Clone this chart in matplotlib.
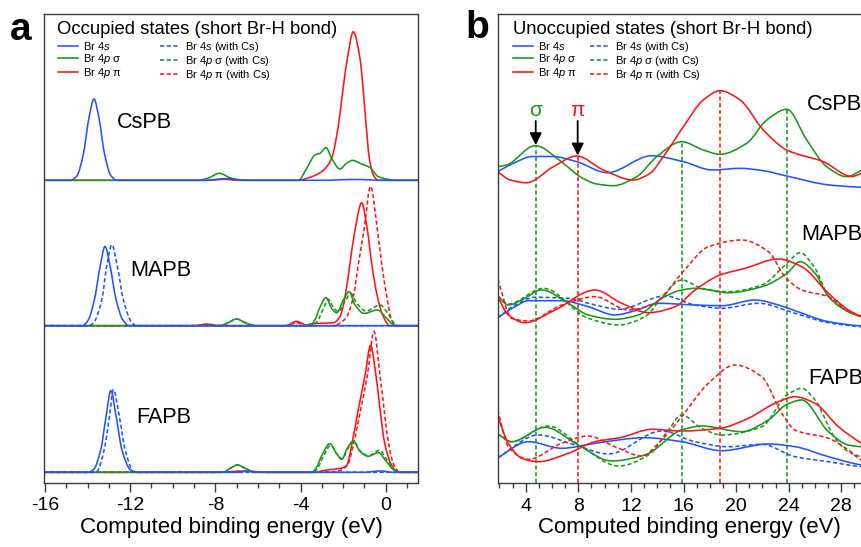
import numpy as np
import matplotlib
matplotlib.use("Agg")
import matplotlib.pyplot as plt
from matplotlib.path import Path
from matplotlib.patches import PathPatch
from matplotlib.lines import Line2D

plt.rcParams['font.family'] = ['Liberation Sans', 'DejaVu Sans']
plt.rcParams['mathtext.fontset'] = 'custom'
plt.rcParams['mathtext.rm'] = 'Liberation Sans'
plt.rcParams['mathtext.it'] = 'Liberation Sans:italic'
plt.rcParams['axes.unicode_minus'] = False

# ---------------- DATA: occupied states (panel a), energy (eV) / intensity ----------------
materials = ["CsPB", "MAPB", "FAPB"]

cspb_occ_4s_x = [-16.1, -14.8, -14.5, -14.2, -13.93, -13.7, -13.47, -13.2, -12.9, -12.6, -8.5, -7.47, -6.5, -3.0, -1.5, 0.0, 1.6]
cspb_occ_4s_y = [0, 0, 4.5, 26, 63, 81.3, 63, 26, 4.5, 0, 0, 1.7, 0, 0, 0.8, 0, 0]
cspb_occ_sig_x = [-16.1, -8.8, -8.3, -7.81, -7.3, -6.8, -4.1, -3.71, -3.32, -3.09, -2.8, -2.54, -2.15, -1.84, -1.55, -1.21, -0.74, -0.35, 0.05, 0.5, 1.6]
cspb_occ_sig_y = [0, 0, 2.5, 7, 2.5, 0, 0, 12, 25.3, 27, 32.7, 22, 11.3, 17, 20, 17, 12.7, 3.7, 1.3, 0, 0]
cspb_occ_pi_x = [-16.1, -8.3, -7.6, -7.0, -4.1, -3.7, -3.0, -2.54, -2.22, -2.02, -1.80, -1.52, -1.21, -1.05, -0.92, -0.77, -0.58, -0.35, 0.0, 1.6]
cspb_occ_pi_y = [0, 0, 1, 0, 0, 2, 8.7, 22, 55.3, 88.7, 122, 148.6, 122, 88.7, 55.3, 22, 5.3, 0, 0, 0]

mapb_occ_4s_x = [-16.1, -14.25, -13.96, -13.68, -13.41, -13.18, -12.94, -12.66, -12.35, -12.05, 1.6]
mapb_occ_4s_y = [0, 0, 6, 26, 59.3, 79.3, 59.3, 26, 6, 0, 0]
mapb_occ_4s_cs_x = [-16.1, -13.95, -13.72, -13.33, -13.1, -12.86, -12.6, -12.32, -11.92, -11.7, 1.6]
mapb_occ_4s_cs_y = [0, 0, 3, 26, 59.3, 81, 59.3, 26, 3, 0, 0]
mapb_occ_sig_x = [-16.1, -7.8, -7.4, -7.0, -6.6, -6.1, -3.55, -3.3, -3.08, -2.80, -2.54, -2.30, -1.99, -1.72, -1.44, -1.02, -0.39, 0.05, 0.36, 0.55, 1.6]
mapb_occ_sig_y = [0, 0, 3, 6.7, 3, 0, 0, 7, 19, 28, 17.3, 13, 25.7, 34, 20.7, 12.3, 15.7, 7.3, 1, 0, 0]
mapb_occ_sig_cs_x = [-16.1, -7.8, -7.4, -7.0, -6.6, -6.1, -3.45, -3.2, -2.95, -2.69, -2.45, -2.22, -1.9, -1.64, -1.35, -0.93, -0.27, 0.2, 0.4, 0.55, 1.6]
mapb_occ_sig_cs_y = [0, 0, 3, 6.7, 3, 0, 0, 5, 16, 26.3, 18, 14, 25, 32.3, 22, 14.7, 20.7, 9, 2, 0, 0]
mapb_occ_pi_x = [-16.1, -9.0, -8.4, -7.8, -4.7, -4.18, -3.7, -3.5, -2.46, -2.15, -1.91, -1.68, -1.44, -1.13, -0.86, -0.66, -0.39, -0.11, 0.2, 1.6]
mapb_occ_pi_y = [0, 0, 1.5, 0, 0, 4.3, 0.5, 2, 3, 9, 29, 62.3, 95.7, 123, 95.7, 62.3, 29, 9, 0, 0]
mapb_occ_pi_cs_x = [-16.1, -9.0, -8.4, -7.8, -4.7, -4.18, -3.7, -2.5, -2.22, -1.83, -1.52, -1.28, -1.02, -0.71, -0.39, -0.19, 0.05, 0.28, 0.52, 1.6]
mapb_occ_pi_cs_y = [0, 0, 1.5, 0, 0, 3, 0, 0, 1.7, 9, 29, 62.3, 95.7, 139.3, 95.7, 62.3, 29, 5.7, 0, 0]

fapb_occ_4s_x = [-16.1, -14.0, -13.72, -13.38, -13.13, -12.91, -12.66, -12.39, -12.0, -11.75, -7.0, -6.5, -6.0, -1.0, -0.3, 0.4, 1.6]
fapb_occ_4s_y = [0, 0, 2.7, 22.7, 56, 81.7, 56, 22.7, 2.7, 0, 0, 1, 0, 0, 1.3, 0, 0]
fapb_occ_4s_cs_x = [-16.1, -13.8, -13.56, -13.22, -12.97, -12.79, -12.51, -12.24, -11.85, -11.6, 1.6]
fapb_occ_4s_cs_y = [0, 0, 1, 22.7, 56, 82.7, 56, 22.7, 1, 0, 0]
fapb_occ_sig_x = [-16.1, -7.65, -7.3, -6.97, -6.6, -6.14, -3.47, -3.25, -3.0, -2.62, -2.31, -2.07, -1.80, -1.52, -1.21, -0.82, -0.35, 0.05, 0.36, 0.6, 1.6]
fapb_occ_sig_y = [0, 0, 4, 7.3, 4, 0, 0, 5, 17, 28.7, 18.7, 13, 24.3, 31.3, 21, 16, 19.7, 10.3, 2.7, 0, 0]
fapb_occ_sig_cs_x = [-16.1, -7.65, -7.3, -6.97, -6.6, -6.14, -3.4, -3.2, -2.95, -2.58, -2.28, -2.04, -1.77, -1.5, -1.19, -0.8, -0.3, 0.1, 0.4, 0.65, 1.6]
fapb_occ_sig_cs_y = [0, 0, 4, 7.3, 4, 0, 0, 4, 15, 27, 18, 13.5, 24, 30.5, 21, 16.5, 22, 11, 3, 0, 0]
fapb_occ_pi_x = [-16.1, -8.0, -6.6, -5.5, -3.3, -3.0, -2.46, -2.1, -1.83, -1.57, -1.28, -0.97, -0.71, -0.46, -0.27, -0.06, 0.28, 0.59, 1.6]
fapb_occ_pi_y = [0, 0, 1.2, 0, 0, 1.5, 3, 4, 7, 30.3, 63.7, 97, 127, 97, 63.7, 30.3, 7, 0, 0]
fapb_occ_pi_cs_x = [-16.1, -8.0, -6.6, -5.5, -3.0, -2.3, -1.80, -1.49, -1.17, -0.86, -0.55, -0.27, -0.08, 0.12, 0.39, 0.66, 1.6]
fapb_occ_pi_cs_y = [0, 0, 1, 0, 0, 1, 7, 30.3, 63.7, 97, 141, 97, 63.7, 30.3, 7, 0, 0]

# ---------------- DATA: unoccupied states (panel b) ----------------
cspb_un_4s_x = [1.87, 3.06, 4.5, 6.0, 7.88, 10.2, 13.58, 15.99, 18.2, 20.3, 22.07, 23.85, 27.1, 29.6, 31.0]
cspb_un_4s_y = [21.3, 29.7, 36.5, 36.5, 31.3, 20.3, 37.3, 31.3, 23, 24.7, 22.3, 17, 8, 5.7, 5]
cspb_un_sig_x = [1.87, 2.55, 4.71, 6.86, 8.13, 9.4, 10.66, 12.44, 13.96, 15.86, 17.5, 18.78, 20.8, 22.33, 23.85, 25.37, 26.89, 28.41, 29.57, 31.0]
cspb_un_sig_y = [26.3, 28, 47.3, 29.7, 16.3, 9, 7.3, 16.3, 36.3, 51.3, 43, 38.7, 49.7, 73, 83.7, 53, 26.3, 16.3, 23, 33]
cspb_un_pi_x = [1.87, 2.81, 4.08, 6.1, 7.88, 9.9, 12.18, 13.45, 14.46, 15.99, 17.5, 18.78, 20.3, 22.07, 23.85, 26.63, 28.8, 29.57, 31.0]
cspb_un_pi_y = [21.3, 13, 10.3, 26.3, 37, 23, 13, 19.7, 36.3, 66.3, 93, 102.3, 93, 63, 43, 31.3, 16.5, 20, 30]

mapb_un_4s_x = [1.87, 3.19, 4.2, 6.74, 8.76, 10.79, 12.31, 14.09, 16.88, 18.9, 21.44, 23.21, 24.48, 27.02, 29.55, 31.0]
mapb_un_4s_y = [15.3, 26.3, 32.3, 32.3, 26.3, 18, 22.3, 29.7, 28, 27.3, 33, 28, 22.3, 11.3, 7, 6]
mapb_un_4s_cs_x = [1.87, 3.19, 4.71, 7.24, 9.27, 11.05, 14.6, 16.88, 18.9, 21.7, 24.48, 27.02, 29.55, 31.0]
mapb_un_4s_cs_y = [15.3, 28, 35.7, 34.7, 28, 23.7, 37, 28, 24.7, 29.7, 19.7, 10.3, 6.3, 5.5]
mapb_un_sig_x = [1.87, 2.68, 3.7, 5.22, 7.24, 8.76, 10.79, 12.57, 14.34, 15.86, 16.88, 19.41, 21.95, 23.87, 24.86, 26.0, 27.02, 28.54, 29.55, 31.0]
mapb_un_sig_y = [37, 28, 33, 43, 29.7, 18, 13.7, 18, 34.7, 43, 44.7, 40.3, 46.3, 59.7, 71.3, 59.7, 36.3, 21.3, 16.3, 12]
mapb_un_sig_cs_x = [1.87, 2.68, 5.34, 8.76, 11.05, 13.07, 14.6, 15.86, 17.38, 19.41, 21.95, 23.87, 24.86, 26.0, 27.02, 28.54, 29.55, 31.0]
mapb_un_sig_cs_y = [37, 29, 44.7, 14.7, 8, 16.3, 39.7, 53, 44.7, 41.3, 48, 69.7, 80.3, 64.7, 37, 21.3, 17, 12]
mapb_un_pi_x = [1.87, 2.68, 3.95, 6.23, 9.27, 11.3, 13.33, 15.36, 16.88, 18.78, 20.68, 23.21, 24.99, 27.02, 28.54, 29.55, 31.0]
mapb_un_pi_y = [36.3, 18, 10.3, 23, 43, 29.7, 20.3, 26.3, 43, 58, 64.7, 74, 66.3, 39.7, 23, 16.3, 12]
mapb_un_pi_cs_x = [1.87, 2.93, 4.2, 6.74, 9.27, 11.81, 13.83, 15.86, 17.89, 20.43, 22.46, 23.72, 24.99, 27.02, 28.54, 29.55, 31.0]
mapb_un_pi_cs_y = [53.7, 14.7, 12, 28, 36.3, 23, 29.7, 59.7, 86.3, 93, 81.3, 56.3, 43, 36.3, 21.3, 16.3, 12]

fapb_un_4s_x = [1.87, 4.2, 6.74, 9.27, 13.07, 15.86, 18.9, 22.45, 24.48, 27.02, 29.55, 31.0]
fapb_un_4s_y = [25.3, 41.3, 34.7, 39.7, 45.3, 41.3, 32.3, 39, 36.3, 26.3, 18, 16]
fapb_un_4s_cs_x = [1.87, 4.96, 7.75, 10.29, 14.34, 16.88, 19.41, 21.95, 24.48, 27.02, 29.55, 31.0]
fapb_un_4s_cs_y = [25.3, 48, 38, 29, 52, 41.3, 36.3, 38.7, 26.3, 21.3, 16.3, 15]
fapb_un_sig_x = [1.87, 2.93, 5.47, 8.0, 10.54, 13.07, 15.86, 17.38, 20.43, 22.45, 23.87, 24.99, 27.02, 28.54, 29.55, 31.0]
fapb_un_sig_y = [49, 41.3, 55.7, 38, 22, 28, 53, 57, 51.3, 63, 78.7, 83, 51.3, 38, 36.3, 36]
fapb_un_sig_cs_x = [1.87, 2.93, 5.72, 8.26, 11.05, 13.33, 14.85, 15.86, 17.38, 18.9, 21.95, 23.87, 24.99, 26.0, 27.53, 28.54, 29.55, 31.0]
fapb_un_sig_cs_y = [49, 41.3, 57, 36.3, 17, 28, 53, 68, 54.7, 48, 56.3, 88, 94.7, 83, 44.7, 31.3, 26.3, 24]
fapb_un_pi_x = [1.87, 2.68, 3.7, 4.96, 7.24, 9.27, 11.3, 13.58, 15.86, 18.78, 20.93, 22.96, 24.48, 26.0, 27.78, 29.55, 31.0]
fapb_un_pi_y = [66.3, 39.7, 24.7, 21.3, 29.7, 41.3, 45.7, 53.7, 52, 54.7, 64.7, 79.7, 86.3, 79.7, 56.3, 39.7, 30]
fapb_un_pi_cs_x = [1.87, 2.68, 4.2, 6.74, 8.76, 10.79, 12.82, 14.34, 15.86, 17.89, 19.92, 21.95, 23.47, 24.48, 27.02, 28.54, 29.55, 31.0]
fapb_un_pi_cs_y = [73, 36.3, 23.7, 39.7, 47, 36.3, 27, 43, 66.3, 99.7, 118, 106.3, 69.7, 53, 44.7, 33, 23, 20]

# energies of the marked CsPB unoccupied peaks (sigma / pi)
marker_energies = [4.76, 7.95, 15.88, 18.78, 23.87]
marker_kinds = ["sig", "pi", "sig", "pi", "sig"]

# ---------------- STYLE ----------------
W, H = 862, 547
BLUE, GREEN, RED = '#1f55ff', '#17991a', '#ff1414'
SPINE = '#3c3c3c'
LW = 1.15
DASH = (0, (2.6, 1.6))
colors = {"4s": BLUE, "sig": GREEN, "pi": RED}

fig = plt.figure(figsize=(W / 100, H / 100), dpi=100)


def fx(px):
    return px / W


def fy(py):
    return 1 - py / H


def smooth_path(xs, ys, dy):
    """Monotone cubic (Fritsch-Butland) curve through the given points as Bezier segments."""
    x = np.asarray(xs, float)
    y = np.asarray(ys, float) + dy
    h = np.diff(x)
    d = np.diff(y) / h
    n = len(x)
    m = np.zeros(n)
    m[0], m[-1] = d[0], d[-1]
    for i in range(1, n - 1):
        if d[i - 1] * d[i] > 0:
            w1 = 2 * h[i] + h[i - 1]
            w2 = h[i] + 2 * h[i - 1]
            m[i] = (w1 + w2) / (w1 / d[i - 1] + w2 / d[i])
    verts = [(x[0], y[0])]
    codes = [Path.MOVETO]
    for i in range(n - 1):
        verts += [(x[i] + h[i] / 3, y[i] + m[i] * h[i] / 3),
                  (x[i + 1] - h[i] / 3, y[i + 1] - m[i + 1] * h[i] / 3),
                  (x[i + 1], y[i + 1])]
        codes += [Path.CURVE4] * 3
    return Path(verts, codes)


def draw(ax, xs, ys, dy, color, dashed=False, z=2):
    patch = PathPatch(smooth_path(xs, ys, dy), fill=False, edgecolor=color, lw=LW,
                      linestyle=DASH if dashed else '-', capstyle='butt', joinstyle='round', zorder=z)
    ax.add_patch(patch)


def style_axes(ax):
    for s in ax.spines.values():
        s.set_color(SPINE)
        s.set_linewidth(1.0)
    ax.set_yticks([])
    ax.tick_params(axis='x', which='major', direction='out', length=6.5, width=1.0,
                   color=SPINE, labelsize=14, pad=4)
    ax.tick_params(axis='x', which='minor', direction='out', length=3.5, width=1.0, color=SPINE)
    ax.set_xlabel("Computed binding energy (eV)", fontsize=16, labelpad=2)


# ================= panel a =================
axa = fig.add_axes([fx(43.7), fy(482.7), fx(418.3 - 43.7), (482.7 - 14) / H])
axa.set_xlim(-16.06, 1.53)
axa.set_ylim(0, 468.7)
style_axes(axa)
axa.set_xticks([-16, -12, -8, -4, 0])
axa.set_xticks(np.arange(-16, 2, 1), minor=True)

occ_base = {"CsPB": 302.4, "MAPB": 157.0, "FAPB": 10.4}
occ = {
    "CsPB": [("pi", cspb_occ_pi_x, cspb_occ_pi_y, False),
             ("sig", cspb_occ_sig_x, cspb_occ_sig_y, False),
             ("4s", cspb_occ_4s_x, cspb_occ_4s_y, False)],
    "MAPB": [("pi", mapb_occ_pi_x, mapb_occ_pi_y, False), ("pi", mapb_occ_pi_cs_x, mapb_occ_pi_cs_y, True),
             ("sig", mapb_occ_sig_x, mapb_occ_sig_y, False), ("sig", mapb_occ_sig_cs_x, mapb_occ_sig_cs_y, True),
             ("4s", mapb_occ_4s_x, mapb_occ_4s_y, False), ("4s", mapb_occ_4s_cs_x, mapb_occ_4s_cs_y, True)],
    "FAPB": [("pi", fapb_occ_pi_x, fapb_occ_pi_y, False), ("pi", fapb_occ_pi_cs_x, fapb_occ_pi_cs_y, True),
             ("sig", fapb_occ_sig_x, fapb_occ_sig_y, False), ("sig", fapb_occ_sig_cs_x, fapb_occ_sig_cs_y, True),
             ("4s", fapb_occ_4s_x, fapb_occ_4s_y, False), ("4s", fapb_occ_4s_cs_x, fapb_occ_4s_cs_y, True)],
}
for mat in materials:
    for k, (kind, xs, ys, dashed) in enumerate(occ[mat]):
        draw(axa, xs, ys, occ_base[mat], colors[kind], dashed, z=2 + k * 0.1)

fig.text(fx(117), fy(122), "CsPB", fontsize=15.6, va='center', ha='left')
fig.text(fx(130.7), fy(270.7), "MAPB", fontsize=15.6, va='center', ha='left')
fig.text(fx(136.7), fy(417.3), "FAPB", fontsize=15.6, va='center', ha='left')

# ================= panel b =================
axb = fig.add_axes([fx(497.7), fy(483), fx(880.8 - 497.7), (483 - 14) / H])
axb.set_xlim(1.87, 31.0)
axb.set_ylim(0, 469)
style_axes(axb)
axb.set_xticks([4, 8, 12, 16, 20, 24, 28])
axb.set_xticks(np.arange(2, 31, 1), minor=True)

un_base = {"CsPB": 290, "MAPB": 150, "FAPB": 0}
un = {
    "CsPB": [("4s", cspb_un_4s_x, cspb_un_4s_y, False),
             ("sig", cspb_un_sig_x, cspb_un_sig_y, False),
             ("pi", cspb_un_pi_x, cspb_un_pi_y, False)],
    "MAPB": [("4s", mapb_un_4s_x, mapb_un_4s_y, False), ("4s", mapb_un_4s_cs_x, mapb_un_4s_cs_y, True),
             ("sig", mapb_un_sig_x, mapb_un_sig_y, False), ("sig", mapb_un_sig_cs_x, mapb_un_sig_cs_y, True),
             ("pi", mapb_un_pi_x, mapb_un_pi_y, False), ("pi", mapb_un_pi_cs_x, mapb_un_pi_cs_y, True)],
    "FAPB": [("4s", fapb_un_4s_x, fapb_un_4s_y, False), ("4s", fapb_un_4s_cs_x, fapb_un_4s_cs_y, True),
             ("sig", fapb_un_sig_x, fapb_un_sig_y, False), ("sig", fapb_un_sig_cs_x, fapb_un_sig_cs_y, True),
             ("pi", fapb_un_pi_x, fapb_un_pi_y, False), ("pi", fapb_un_pi_cs_x, fapb_un_pi_cs_y, True)],
}
for mat in materials:
    for k, (kind, xs, ys, dashed) in enumerate(un[mat]):
        draw(axb, xs, ys, un_base[mat], colors[kind], dashed, z=2 + k * 0.1)

# marker lines from the CsPB peaks down to the axis
cs_lookup = {"sig": (cspb_un_sig_x, cspb_un_sig_y), "pi": (cspb_un_pi_x, cspb_un_pi_y)}
tops = {}
for e, kind in zip(marker_energies, marker_kinds):
    xs, ys = cs_lookup[kind]
    top = np.interp(e, xs, ys) + un_base["CsPB"]
    tops[e] = top
    axb.plot([e, e], [0, top], color=colors[kind], lw=LW, linestyle=DASH, zorder=1.5)

# sigma / pi arrows
for e, kind, label in [(marker_energies[0], "sig", "σ"), (marker_energies[1], "pi", "π")]:
    axb.annotate('', xy=(e, tops[e] + 1), xytext=(e, 362),
                 arrowprops=dict(arrowstyle='-|>,head_length=0.6,head_width=0.3', color='black',
                                 lw=1.3, mutation_scale=12, shrinkA=0, shrinkB=0))
    axb.text(e, 373, label, color=colors[kind], fontsize=15, ha='center', va='center')

fig.text(fx(806.7), fy(105), "CsPB", fontsize=15.6, va='center', ha='left')
fig.text(fx(801.7), fy(235), "MAPB", fontsize=15.6, va='center', ha='left')
fig.text(fx(808.3), fy(378.3), "FAPB", fontsize=15.6, va='center', ha='left')

# ================= titles, legends, panel letters =================
fig.text(fx(57.3), fy(30), "Occupied states (short Br-H bond)", fontsize=13.3, va='center', ha='left')
fig.text(fx(512.7), fy(30), "Unoccupied states (short Br-H bond)", fontsize=13.3, va='center', ha='left')
fig.text(fx(10), fy(40), "a", fontsize=28, fontweight='bold', va='baseline', ha='left')
fig.text(fx(465), fy(38), "b", fontsize=28, fontweight='bold', va='baseline', ha='left')

labels = [r'Br $\mathit{4s}$', r'Br $\mathit{4p}$ σ', r'Br $\mathit{4p}$ π',
          r'Br $\mathit{4s}$ (with Cs)', r'Br $\mathit{4p}$ σ (with Cs)', r'Br $\mathit{4p}$ π (with Cs)']
handles = [Line2D([], [], color=c, lw=LW) for c in (BLUE, GREEN, RED)] + \
          [Line2D([], [], color=c, lw=LW, linestyle=DASH) for c in (BLUE, GREEN, RED)]

for px, colsp in [(58.3, 3.4), (513, 1.17)]:
    fig.legend(handles, labels, loc='upper left', bbox_to_anchor=(fx(px), fy(40)),
               bbox_transform=fig.transFigure, ncol=2, frameon=False, fontsize=8,
               handlelength=1.8, handletextpad=0.45, columnspacing=colsp,
               labelspacing=0.0, borderpad=0, borderaxespad=0)

fig.savefig("out.png", dpi=100)
